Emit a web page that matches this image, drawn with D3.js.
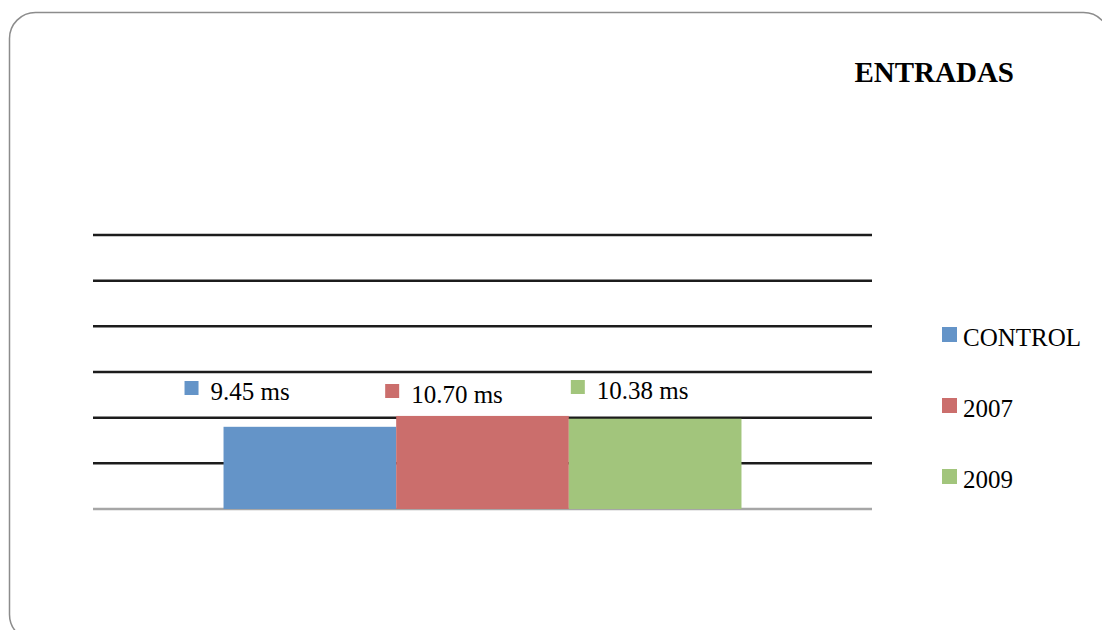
<!DOCTYPE html>
<html>
<head>
<meta charset="utf-8">
<script src="https://cdn.jsdelivr.net/npm/d3@7"></script>
<style>
  html, body { margin: 0; padding: 0; background: #fff; }
  svg { display: block; font-family: "Liberation Serif", "DejaVu Serif", serif; }
</style>
</head>
<body>
<script>
var width = 1102,
    height = 630;

// datos
var title = "ENTRADAS";
var categories = ["ENTRADAS"];
var series = ["CONTROL", "2007", "2009"];
var values = [9.45, 10.70, 10.38];
var valueLabels = ["9.45 ms", "10.70 ms", "10.38 ms"];
var colors = ["#6494c8", "#cb6e6c", "#a2c57c"];
var yMax = 31.5,
    gridCount = 6;

// posiciones de las etiquetas (movidas a mano como en el original)
var labelShiftX = [-39, -11, 2],
    labelShiftY = [0, 3, -1];

var svg = d3.select("body").append("svg")
    .attr("width", width)
    .attr("height", height);

// marco redondeado
svg.append("rect")
    .attr("x", 9.5)
    .attr("y", 12.5)
    .attr("width", 1100)
    .attr("height", 628)
    .attr("rx", 26)
    .attr("fill", "#fff")
    .attr("stroke", "#8c8c8c")
    .attr("stroke-width", 1.5);

var plot = {left: 93, right: 872, top: 235, bottom: 509};

var scaleY = d3.scaleLinear()
    .domain([0, yMax])
    .range([plot.bottom, plot.top]);

var scaleX = d3.scaleBand()
    .domain(categories)
    .range([plot.left, plot.right])
    .paddingInner(0)
    .paddingOuter(0.252);

var scaleS = d3.scaleBand()
    .domain(series)
    .range([0, scaleX.bandwidth()]);

// lineas de la cuadricula
var gridValues = d3.range(1, gridCount + 1).map(function(i) { return i * yMax / gridCount; });
svg.append("g").selectAll("line")
    .data(gridValues)
    .enter().append("line")
    .attr("x1", plot.left)
    .attr("x2", plot.right)
    .attr("y1", function(d) { return scaleY(d); })
    .attr("y2", function(d) { return scaleY(d); })
    .attr("stroke", "#1c1c1c")
    .attr("stroke-width", 2.5);

// eje base
svg.append("line")
    .attr("x1", plot.left)
    .attr("x2", plot.right)
    .attr("y1", scaleY(0))
    .attr("y2", scaleY(0))
    .attr("stroke", "#a6a6a6")
    .attr("stroke-width", 2.5);

// barras
var x0 = scaleX(categories[0]);
svg.append("g").selectAll("rect")
    .data(values)
    .enter().append("rect")
    .attr("x", function(d, i) { return x0 + scaleS(series[i]); })
    .attr("y", function(d) { return scaleY(d); })
    .attr("width", scaleS.bandwidth())
    .attr("height", function(d) { return scaleY(0) - scaleY(d); })
    .attr("fill", function(d, i) { return colors[i]; });

// etiquetas de datos
var lab = svg.append("g").selectAll("g")
    .data(values)
    .enter().append("g")
    .attr("transform", function(d, i) {
      return "translate(" + (x0 + scaleS(series[i]) + labelShiftX[i]) + "," + (400 + labelShiftY[i]) + ")";
    });
lab.append("rect")
    .attr("x", 0)
    .attr("y", -19)
    .attr("width", 14)
    .attr("height", 14)
    .attr("fill", function(d, i) { return colors[i]; });
lab.append("text")
    .attr("x", 26)
    .attr("y", 0)
    .attr("font-size", 25)
    .attr("fill", "#000")
    .text(function(d, i) { return valueLabels[i]; });

// titulo
svg.append("text")
    .attr("x", 1014)
    .attr("y", 82)
    .attr("text-anchor", "end")
    .attr("font-size", 29)
    .attr("font-weight", "bold")
    .attr("fill", "#000")
    .text(title);

// leyenda
var legend = svg.append("g").selectAll("g")
    .data(series)
    .enter().append("g")
    .attr("transform", function(d, i) { return "translate(942," + (346 + i * 71) + ")"; });
legend.append("rect")
    .attr("x", 0)
    .attr("y", -19)
    .attr("width", 15)
    .attr("height", 15)
    .attr("fill", function(d, i) { return colors[i]; });
legend.append("text")
    .attr("x", 21)
    .attr("y", 0)
    .attr("font-size", 25)
    .attr("fill", "#000")
    .text(function(d) { return d; });
</script>
</body>
</html>
